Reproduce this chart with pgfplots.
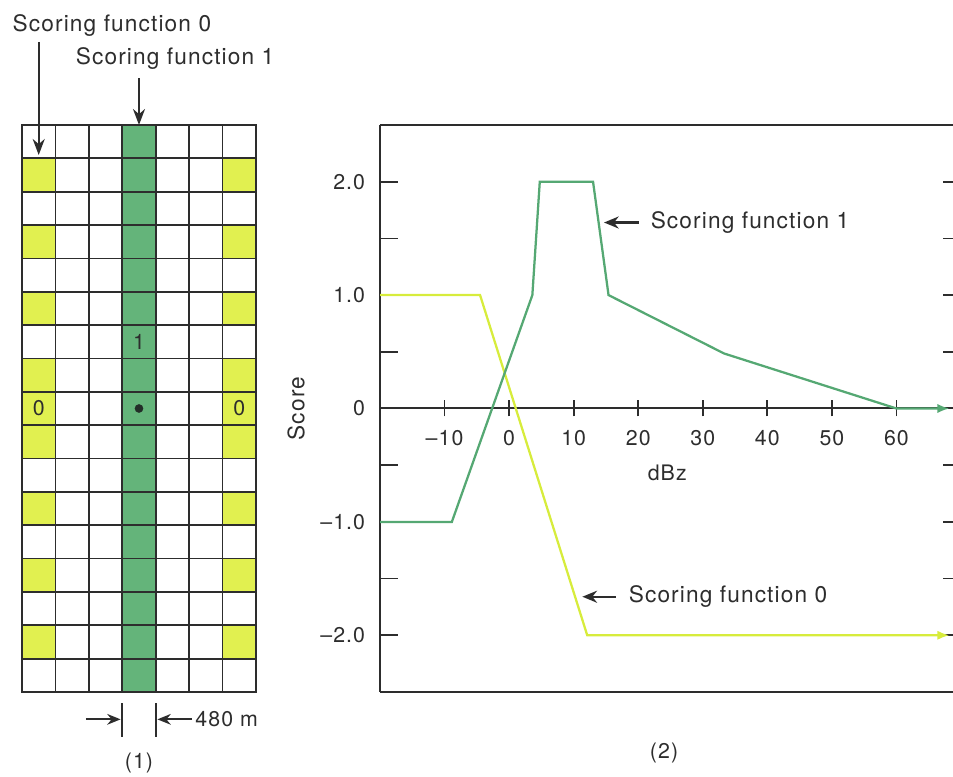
\documentclass[border=0pt]{standalone}
\usepackage{fontspec}
\setmainfont{TeX Gyre Heros}[LetterSpace=5]
\usepackage{pgfplots}
\pgfplotsset{compat=1.18}
\usetikzlibrary{arrows.meta}
\definecolor{linegreen}{RGB}{85,168,115}
\definecolor{lineyellow}{RGB}{215,236,60}
\definecolor{dotc}{RGB}{35,45,40}
\definecolor{ink}{RGB}{45,45,45}
\newcommand\fA{\fontsize{17}{20}\selectfont}
\newcommand\fB{\fontsize{14.5}{17}\selectfont}
\newcommand\fC{\fontsize{16}{19}\selectfont}
\begin{document}
\begin{tikzpicture}
\clip (0pt,0pt) rectangle (714.75pt,582.75pt);
% ---------------- panel (1) ----------------
\begin{axis}[at={(16.5pt,63.75pt)}, anchor=south west, scale only axis,
  width=175.5pt, height=425.25pt,
  xmin=-0.5, xmax=6.5, ymin=-0.5, ymax=16.5,
  xtick={-0.5,0.5,1.5,2.5,3.5,4.5,5.5,6.5},
  ytick={-0.5,0.5,1.5,2.5,3.5,4.5,5.5,6.5,7.5,8.5,9.5,10.5,11.5,12.5,13.5,14.5,15.5,16.5},
  xticklabels={}, yticklabels={}, major tick length=0pt,
  grid=major, major grid style={ink,line width=1.3pt},
  axis line style={ink,line width=1.5pt},
  axis on top, clip=false,
  colormap={cells}{rgb255(0cm)=(255,255,255); rgb255(1cm)=(225,240,80); rgb255(2cm)=(100,180,122)},
  point meta min=0, point meta max=2]
\addplot[matrix plot*, mesh/cols=7, point meta=explicit] coordinates {
(0,0)[0] (1,0)[0] (2,0)[0] (3,0)[2] (4,0)[0] (5,0)[0] (6,0)[0]
(0,1)[1] (1,1)[0] (2,1)[0] (3,1)[2] (4,1)[0] (5,1)[0] (6,1)[1]
(0,2)[0] (1,2)[0] (2,2)[0] (3,2)[2] (4,2)[0] (5,2)[0] (6,2)[0]
(0,3)[1] (1,3)[0] (2,3)[0] (3,3)[2] (4,3)[0] (5,3)[0] (6,3)[1]
(0,4)[0] (1,4)[0] (2,4)[0] (3,4)[2] (4,4)[0] (5,4)[0] (6,4)[0]
(0,5)[1] (1,5)[0] (2,5)[0] (3,5)[2] (4,5)[0] (5,5)[0] (6,5)[1]
(0,6)[0] (1,6)[0] (2,6)[0] (3,6)[2] (4,6)[0] (5,6)[0] (6,6)[0]
(0,7)[1] (1,7)[0] (2,7)[0] (3,7)[2] (4,7)[0] (5,7)[0] (6,7)[1]
(0,8)[1] (1,8)[0] (2,8)[0] (3,8)[2] (4,8)[0] (5,8)[0] (6,8)[1]
(0,9)[1] (1,9)[0] (2,9)[0] (3,9)[2] (4,9)[0] (5,9)[0] (6,9)[1]
(0,10)[0] (1,10)[0] (2,10)[0] (3,10)[2] (4,10)[0] (5,10)[0] (6,10)[0]
(0,11)[1] (1,11)[0] (2,11)[0] (3,11)[2] (4,11)[0] (5,11)[0] (6,11)[1]
(0,12)[0] (1,12)[0] (2,12)[0] (3,12)[2] (4,12)[0] (5,12)[0] (6,12)[0]
(0,13)[1] (1,13)[0] (2,13)[0] (3,13)[2] (4,13)[0] (5,13)[0] (6,13)[1]
(0,14)[0] (1,14)[0] (2,14)[0] (3,14)[2] (4,14)[0] (5,14)[0] (6,14)[0]
(0,15)[1] (1,15)[0] (2,15)[0] (3,15)[2] (4,15)[0] (5,15)[0] (6,15)[1]
(0,16)[0] (1,16)[0] (2,16)[0] (3,16)[2] (4,16)[0] (5,16)[0] (6,16)[0]
};
\addplot[only marks, mark=*, mark size=3pt, color=dotc] coordinates {(3,8)};
\node[font=\fC, text=ink] at (axis cs:3,10) {1};
\node[font=\fC, text=ink] at (axis cs:0,8) {0};
\node[font=\fC, text=ink] at (axis cs:6,8) {0};
% labels and arrows above
\node[font=\fA, anchor=base, text=ink] at (axis cs:2.19,19.3) {Scoring function 0};
\node[font=\fA, anchor=base, text=ink] at (axis cs:4.08,18.3) {Scoring function 1};
\draw[ink, line width=1.7pt, -{Stealth[length=12pt,width=9pt]}] (axis cs:0,18.99) -- (axis cs:0,15.6);
\draw[ink, line width=1.7pt, -{Stealth[length=12pt,width=9pt]}] (axis cs:3,17.9) -- (axis cs:3,16.5);
% 480 m dimension
\draw[ink, line width=1.3pt] (axis cs:2.5,-0.84) -- (axis cs:2.5,-1.86);
\draw[ink, line width=1.3pt] (axis cs:3.5,-0.84) -- (axis cs:3.5,-1.86);
\draw[ink, line width=1.7pt, -{Stealth[length=10pt,width=8pt]}] (axis cs:1.41,-1.32) -- (axis cs:2.45,-1.32);
\draw[ink, line width=1.7pt, -{Stealth[length=10pt,width=8pt]}] (axis cs:4.58,-1.32) -- (axis cs:3.55,-1.32);
\node[font=\fC, anchor=west, inner sep=0pt, text=ink] at (axis cs:4.68,-1.30) {480 m};
\node[font=\fC, text=ink] at (axis cs:3,-2.64) {(1)};
\end{axis}
% ---------------- panel (2): right-hand ticks (axis cut at picture edge) ----------------
\begin{axis}[at={(285pt,63.75pt)}, anchor=south west, scale only axis,
  width=429.75pt, height=425.25pt,
  xmin=-20, xmax=68.76, ymin=-2.5, ymax=2.5,
  axis x line=none, axis y line*=right,
  axis line style={draw=none},
  xtick=\empty,
  ytick={-2,-1,0,1,2}, minor ytick={-1.5,-0.5,0.5,1.5},
  yticklabels={},
  tick align=inside, major tick length=7.5pt, minor tick length=7.5pt,
  major tick style={ink, line width=1.3pt},
  minor tick style={ink, line width=1.3pt}]
\end{axis}
% ---------------- panel (2): x axis at zero ----------------
\begin{axis}[at={(285pt,63.75pt)}, anchor=south west, scale only axis,
  width=429.75pt, height=425.25pt,
  xmin=-20, xmax=68.76, ymin=-2.5, ymax=2.5,
  axis x line=middle, axis y line=none,
  axis line style={-, ink, line width=1.5pt},
  xtick={-10,0,10,20,30,40,50,60},
  xticklabels={\textendash10,0,10,20,30,40,50,60},
  ytick=\empty,
  tick align=center, major tick length=12pt,
  major tick style={ink, line width=1.3pt},
  xticklabel style={font=\fC, text=ink, anchor=north, inner sep=0pt, yshift=-10pt}]
\end{axis}
% ---------------- panel (2): frame, curves ----------------
\begin{axis}[at={(285pt,63.75pt)}, anchor=south west, scale only axis,
  width=429.75pt, height=425.25pt,
  xmin=-20, xmax=68.76, ymin=-2.5, ymax=2.5,
  axis x line*=box, axis y line*=left,
  xtick=\empty,
  ytick={-2,-1,0,1,2},
  yticklabels={\textendash2.0,\textendash1.0,0,1.0,2.0},
  minor ytick={-1.5,-0.5,0.5,1.5},
  tick align=inside, major tick length=13.5pt, minor tick length=13.5pt,
  major tick style={ink, line width=1.3pt},
  minor tick style={ink, line width=1.3pt},
  axis line style={-, ink, line width=1.6pt},
  yticklabel style={font=\fC, text=ink, anchor=east, inner sep=0pt, xshift=-11pt},
  clip=false]
\addplot[color=lineyellow, line width=1.7pt, -{Latex[length=9pt,width=7pt]}]
  coordinates {(-20,1) (-4.5,1) (12.1,-2) (68.2,-2)};
\addplot[color=linegreen, line width=1.7pt, -{Latex[length=9pt,width=7pt]}]
  coordinates {(-20,-1) (-8.87,-1) (3.6,1) (4.75,2) (13,2) (15.4,1) (33.3,0.485) (60,0) (68.2,0)};
\draw[ink, line width=1.7pt, -{Stealth[length=11pt,width=9pt]}] (axis cs:20.1,1.64) -- (axis cs:14.7,1.64);
\node[font=\fA, anchor=west, inner sep=0pt, text=ink] at (axis cs:21.9,1.64) {Scoring function 1};
\draw[ink, line width=1.7pt, -{Stealth[length=11pt,width=9pt]}] (axis cs:16.5,-1.66) -- (axis cs:11.35,-1.66);
\node[font=\fA, anchor=west, inner sep=0pt, text=ink] at (axis cs:18.5,-1.66) {Scoring function 0};
\node[font=\fC, text=ink] at (axis cs:24.5,-0.567) {dBz};
\node[font=\fA, rotate=90, text=ink] at (axis cs:-33,0) {Score};
\node[font=\fC, text=ink] at (axis cs:24,-3.04) {(2)};
\end{axis}
\end{tikzpicture}
\end{document}
